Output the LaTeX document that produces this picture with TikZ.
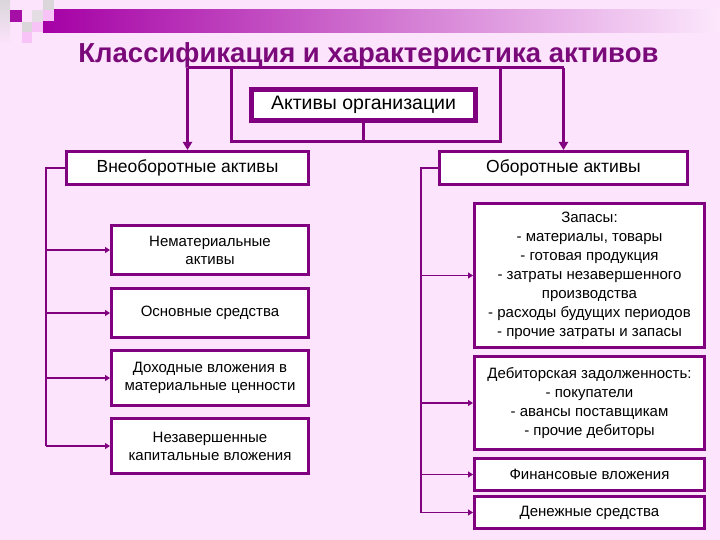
\documentclass[tikz,border=0pt]{standalone}
\usepackage{fontspec}
\setmainfont{Liberation Sans}
\usetikzlibrary{arrows.meta}
\definecolor{bg}{RGB}{253,228,253}
\definecolor{pur}{RGB}{128,0,128}
\definecolor{ttl}{RGB}{122,10,122}
\definecolor{barL}{RGB}{165,0,165}
\definecolor{barR}{RGB}{252,232,252}
\definecolor{sqmag}{RGB}{165,15,165}
\definecolor{sqgrey}{RGB}{218,214,218}
\definecolor{sqlgrey}{RGB}{228,222,228}
\definecolor{sqpink}{RGB}{248,196,248}
\begin{document}
\begin{tikzpicture}[x=1pt,y=-1pt,
  box/.style={draw=pur, line width=3pt, fill=white, inner sep=1pt, align=center, text=black},
  lvlbox/.style={box, font=\fontsize{17.5}{21}\selectfont},
  subbox/.style={box, font=\fontsize{15}{18}\selectfont},
  orgbox/.style={box, line width=5pt, font=\fontsize{19.5}{23}\selectfont},
  thick line/.style={draw=pur, line width=3pt},
  thin line/.style={draw=pur, line width=1.8pt},
  bigarrow/.style={thick line, -{Triangle[width=9pt,length=8pt]}},
  smallarrow/.style={thin line, -{Triangle[width=6pt,length=5pt]}}
]
\fill[bg] (0,0) rectangle (720,540);
\useasboundingbox (0,0) rectangle (720,540);
% top decoration
\shade[left color=barL, right color=barR] (43,10) rectangle (720,33);
\shade[top color=sqgrey, bottom color=bg] (0,0) rectangle (10,45);
\fill[sqmag] (10,10) rectangle (22,22);
\fill[sqgrey] (22,22) rectangle (32,32);
\fill[sqpink] (22,32) rectangle (32,43);
\fill[sqlgrey] (32,10) rectangle (43,22);
\fill[sqpink] (32,22) rectangle (43,32);
\fill[sqgrey] (43,0) rectangle (54,10);
\fill[sqpink] (43,10) rectangle (54,21);
% title
\node[text=ttl, font=\fontsize{27.5}{32}\selectfont\bfseries] (title) at (368.5,55) {Классификация и характеристика активов};
% boxes
\node[orgbox, minimum width=224pt, minimum height=31pt] (org) at (363.5,105) {Активы организации};
\node[lvlbox, minimum width=242pt, minimum height=33pt] (vne) at (187.5,168) {Внеоборотные активы};
\node[lvlbox, minimum width=248pt, minimum height=33pt] (obo) at (563.5,168) {Оборотные активы};
\node[subbox, minimum width=197pt, minimum height=49pt] (n1) at (210,250) {Нематериальные\\активы};
\node[subbox, minimum width=197pt, minimum height=49pt] (n2) at (210,313) {Основные средства};
\node[subbox, minimum width=197pt, minimum height=55pt] (n3) at (210,378) {Доходные вложения в\\материальные ценности};
\node[subbox, minimum width=197pt, minimum height=55pt] (n4) at (210,446) {Незавершенные\\капитальные вложения};
\node[subbox, font=\fontsize{15}{19}\selectfont, minimum width=230pt, minimum height=144pt] (o1) at (589.5,275.5) {Запасы:\\- материалы, товары\\- готовая продукция\\- затраты незавершенного\\производства\\- расходы будущих периодов\\- прочие затраты и запасы};
\node[subbox, font=\fontsize{15}{19}\selectfont, minimum width=230pt, minimum height=93pt] (o2) at (589.5,403) {Дебиторская задолженность:\\- покупатели\\- авансы поставщикам\\- прочие дебиторы};
\node[subbox, minimum width=230pt, minimum height=32pt] (o3) at (589.5,474.5) {Финансовые вложения};
\node[subbox, minimum width=230pt, minimum height=32pt] (o4) at (589.5,512.5) {Денежные средства};
% coordinates
\coordinate (tl) at (187.5,68);
\coordinate (tr) at (563.5,68);
\coordinate (bl) at (231,68);
\coordinate (br) at (500,68);
\coordinate (bb) at (363.5,142);
\coordinate (lx) at (46,168);
\coordinate (rx) at (421,168);
% top connectors
\draw[thick line] (tl) -- (tr);
\draw[bigarrow] (tl) -- (vne.north);
\draw[bigarrow] (tr) -- (obo.north);
\draw[thick line] (org.south) -- (bb);
\draw[thick line] (bl) -- (bl |- bb) -- (br |- bb) -- (br);
% left branch
\draw[thin line] (vne.west) -- (lx) -- (lx |- n4.west);
\foreach \n in {n1,n2,n3,n4} \draw[smallarrow] (lx |- \n.west) -- (\n.west);
% right branch
\draw[thin line] (obo.west) -- (rx) -- (rx |- o4.west);
\foreach \n in {o1,o2,o3,o4} \draw[smallarrow] (rx |- \n.west) -- (\n.west);
\end{tikzpicture}
\end{document}
